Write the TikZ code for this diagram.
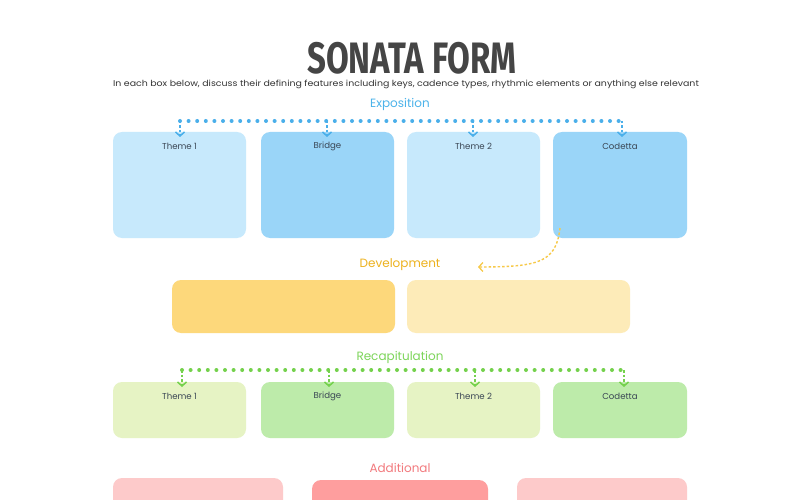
\documentclass[tikz,border=0pt]{standalone}
\usepackage{fontspec}
\setmainfont{Poppins}
\newfontfamily\titlefont{Fira Sans}
\usetikzlibrary{arrows.meta}
\definecolor{bluelt}{HTML}{C7E9FC}
\definecolor{bluedk}{HTML}{9AD5F8}
\definecolor{blueln}{HTML}{4AAFEA}
\definecolor{bluetx}{HTML}{4CB3EA}
\definecolor{yeltx}{HTML}{EDB21E}
\definecolor{yeldk}{HTML}{FDD87B}
\definecolor{yellt}{HTML}{FDEBB8}
\definecolor{yelln}{HTML}{F7C948}
\definecolor{grntx}{HTML}{7DD55A}
\definecolor{grnln}{HTML}{74D14C}
\definecolor{grnlt}{HTML}{E6F3C4}
\definecolor{grndk}{HTML}{BDEBAA}
\definecolor{redtx}{HTML}{F27A7E}
\definecolor{redlt}{HTML}{FDCACA}
\definecolor{reddk}{HTML}{FE9E9E}
\definecolor{titlecol}{HTML}{454545}
\definecolor{labcol}{HTML}{3A4654}
\tikzset{
  box/.style={rectangle, rounded corners=9pt, draw=none, inner sep=0pt},
  boxlabel/.style={font=\fontsize{8.6}{10}\selectfont, text=labcol, inner sep=0pt},
  section/.style={font=\fontsize{12}{14}\selectfont, inner sep=0pt},
  bar/.style={line width=4pt, line cap=round, dash pattern=on 0pt off 8.6pt},
  drop/.style={line width=1.8pt, dash pattern=on 2.5pt off 2pt,
    -{Straight Barb[length=4pt,width=9pt,line width=1.5pt]}},
}
\begin{document}
\begin{tikzpicture}[x=1pt,y=-1pt]
\useasboundingbox (0,0) rectangle (800,500);
\clip (0,0) rectangle (800,500);
\fill[white] (0,0) rectangle (800,500);

% title
\node[font=\titlefont\bfseries\fontsize{44}{44}\selectfont, text=titlecol, xscale=0.75, inner sep=0pt, text depth=0pt, anchor=base] (title) at (412,73.5) {SONATA FORM};
\node[font=\fontsize{8.4}{9}\selectfont, text=black!80, inner sep=0pt, xscale=1.12, anchor=base] (sub) at (406,87) {In each box below, discuss their defining features including keys, cadence types, rhythmic elements or anything else relevant};

% Exposition
\node[section, text=bluetx] (expo) at (400,104) {Exposition};
\node[box, fill=bluelt, minimum width=133pt, minimum height=106pt] (e1) at (179.5,185) {};
\node[box, fill=bluedk, minimum width=133pt, minimum height=106pt] (e2) at (327.5,185) {};
\node[box, fill=bluelt, minimum width=133pt, minimum height=106pt] (e3) at (473.5,185) {};
\node[box, fill=bluedk, minimum width=134pt, minimum height=106pt] (e4) at (620,185) {};
\node[boxlabel] (e1l) at ([yshift=-14.5pt]e1.north) {Theme 1};
\node[boxlabel] (e2l) at ([yshift=-14.5pt]e2.north) {Bridge};
\node[boxlabel] (e3l) at ([yshift=-14.5pt]e3.north) {Theme 2};
\node[boxlabel] (e4l) at ([yshift=-14.5pt]e4.north) {Codetta};
\coordinate (eb1) at (180,121);
\coordinate (eb2) at (327,121);
\coordinate (eb3) at (473,121);
\coordinate (eb4) at (622,121);
\draw[bar, blueln] (eb1) -- (eb4);
\foreach \i/\xx in {1/180,2/327,3/473,4/622}{
  \draw[drop, blueln] (eb\i) -- (\xx,137);
}

% Development
\node[section, text=yeltx] (dev) at (400,265) {Development};
\node[box, fill=yeldk, minimum width=223pt, minimum height=53pt] (d1) at (283.5,306.5) {};
\node[box, fill=yellt, minimum width=223pt, minimum height=53pt] (d2) at (518.5,306.5) {};
\coordinate (dstart) at (560,228);
\coordinate (dend) at (478,267);
\draw[yelln, line width=1.4pt, dash pattern=on 2.5pt off 2pt,
  -{Straight Barb[length=4pt,width=9pt,line width=1.3pt]}]
  (dstart) .. controls (556,262) and (540,267) .. (dend);

% Recapitulation
\node[section, text=grntx] (recap) at (400,357) {Recapitulation};
\node[box, fill=grnlt, minimum width=133pt, minimum height=56pt] (r1) at (179.5,410) {};
\node[box, fill=grndk, minimum width=133pt, minimum height=56pt] (r2) at (327.5,410) {};
\node[box, fill=grnlt, minimum width=133pt, minimum height=56pt] (r3) at (473.5,410) {};
\node[box, fill=grndk, minimum width=134pt, minimum height=56pt] (r4) at (620,410) {};
\node[boxlabel] (r1l) at ([yshift=-14.5pt]r1.north) {Theme 1};
\node[boxlabel] (r2l) at ([yshift=-14.5pt]r2.north) {Bridge};
\node[boxlabel] (r3l) at ([yshift=-14.5pt]r3.north) {Theme 2};
\node[boxlabel] (r4l) at ([yshift=-14.5pt]r4.north) {Codetta};
\coordinate (rb1) at (182,370);
\coordinate (rb2) at (329,370);
\coordinate (rb3) at (475,370);
\coordinate (rb4) at (624,370);
\draw[bar, grnln] (rb1) -- (rb4);
\foreach \i/\xx in {1/182,2/329,3/475,4/624}{
  \draw[drop, grnln] (rb\i) -- (\xx,387);
}

% Additional
\node[section, text=redtx] (add) at (400,468) {Additional};
\node[box, fill=redlt, minimum width=170pt, minimum height=44pt] (a1) at (198,500) {};
\node[box, fill=reddk, minimum width=176pt, minimum height=44pt] (a2) at (400,502) {};
\node[box, fill=redlt, minimum width=170pt, minimum height=44pt] (a3) at (602,500) {};
\end{tikzpicture}
\end{document}
